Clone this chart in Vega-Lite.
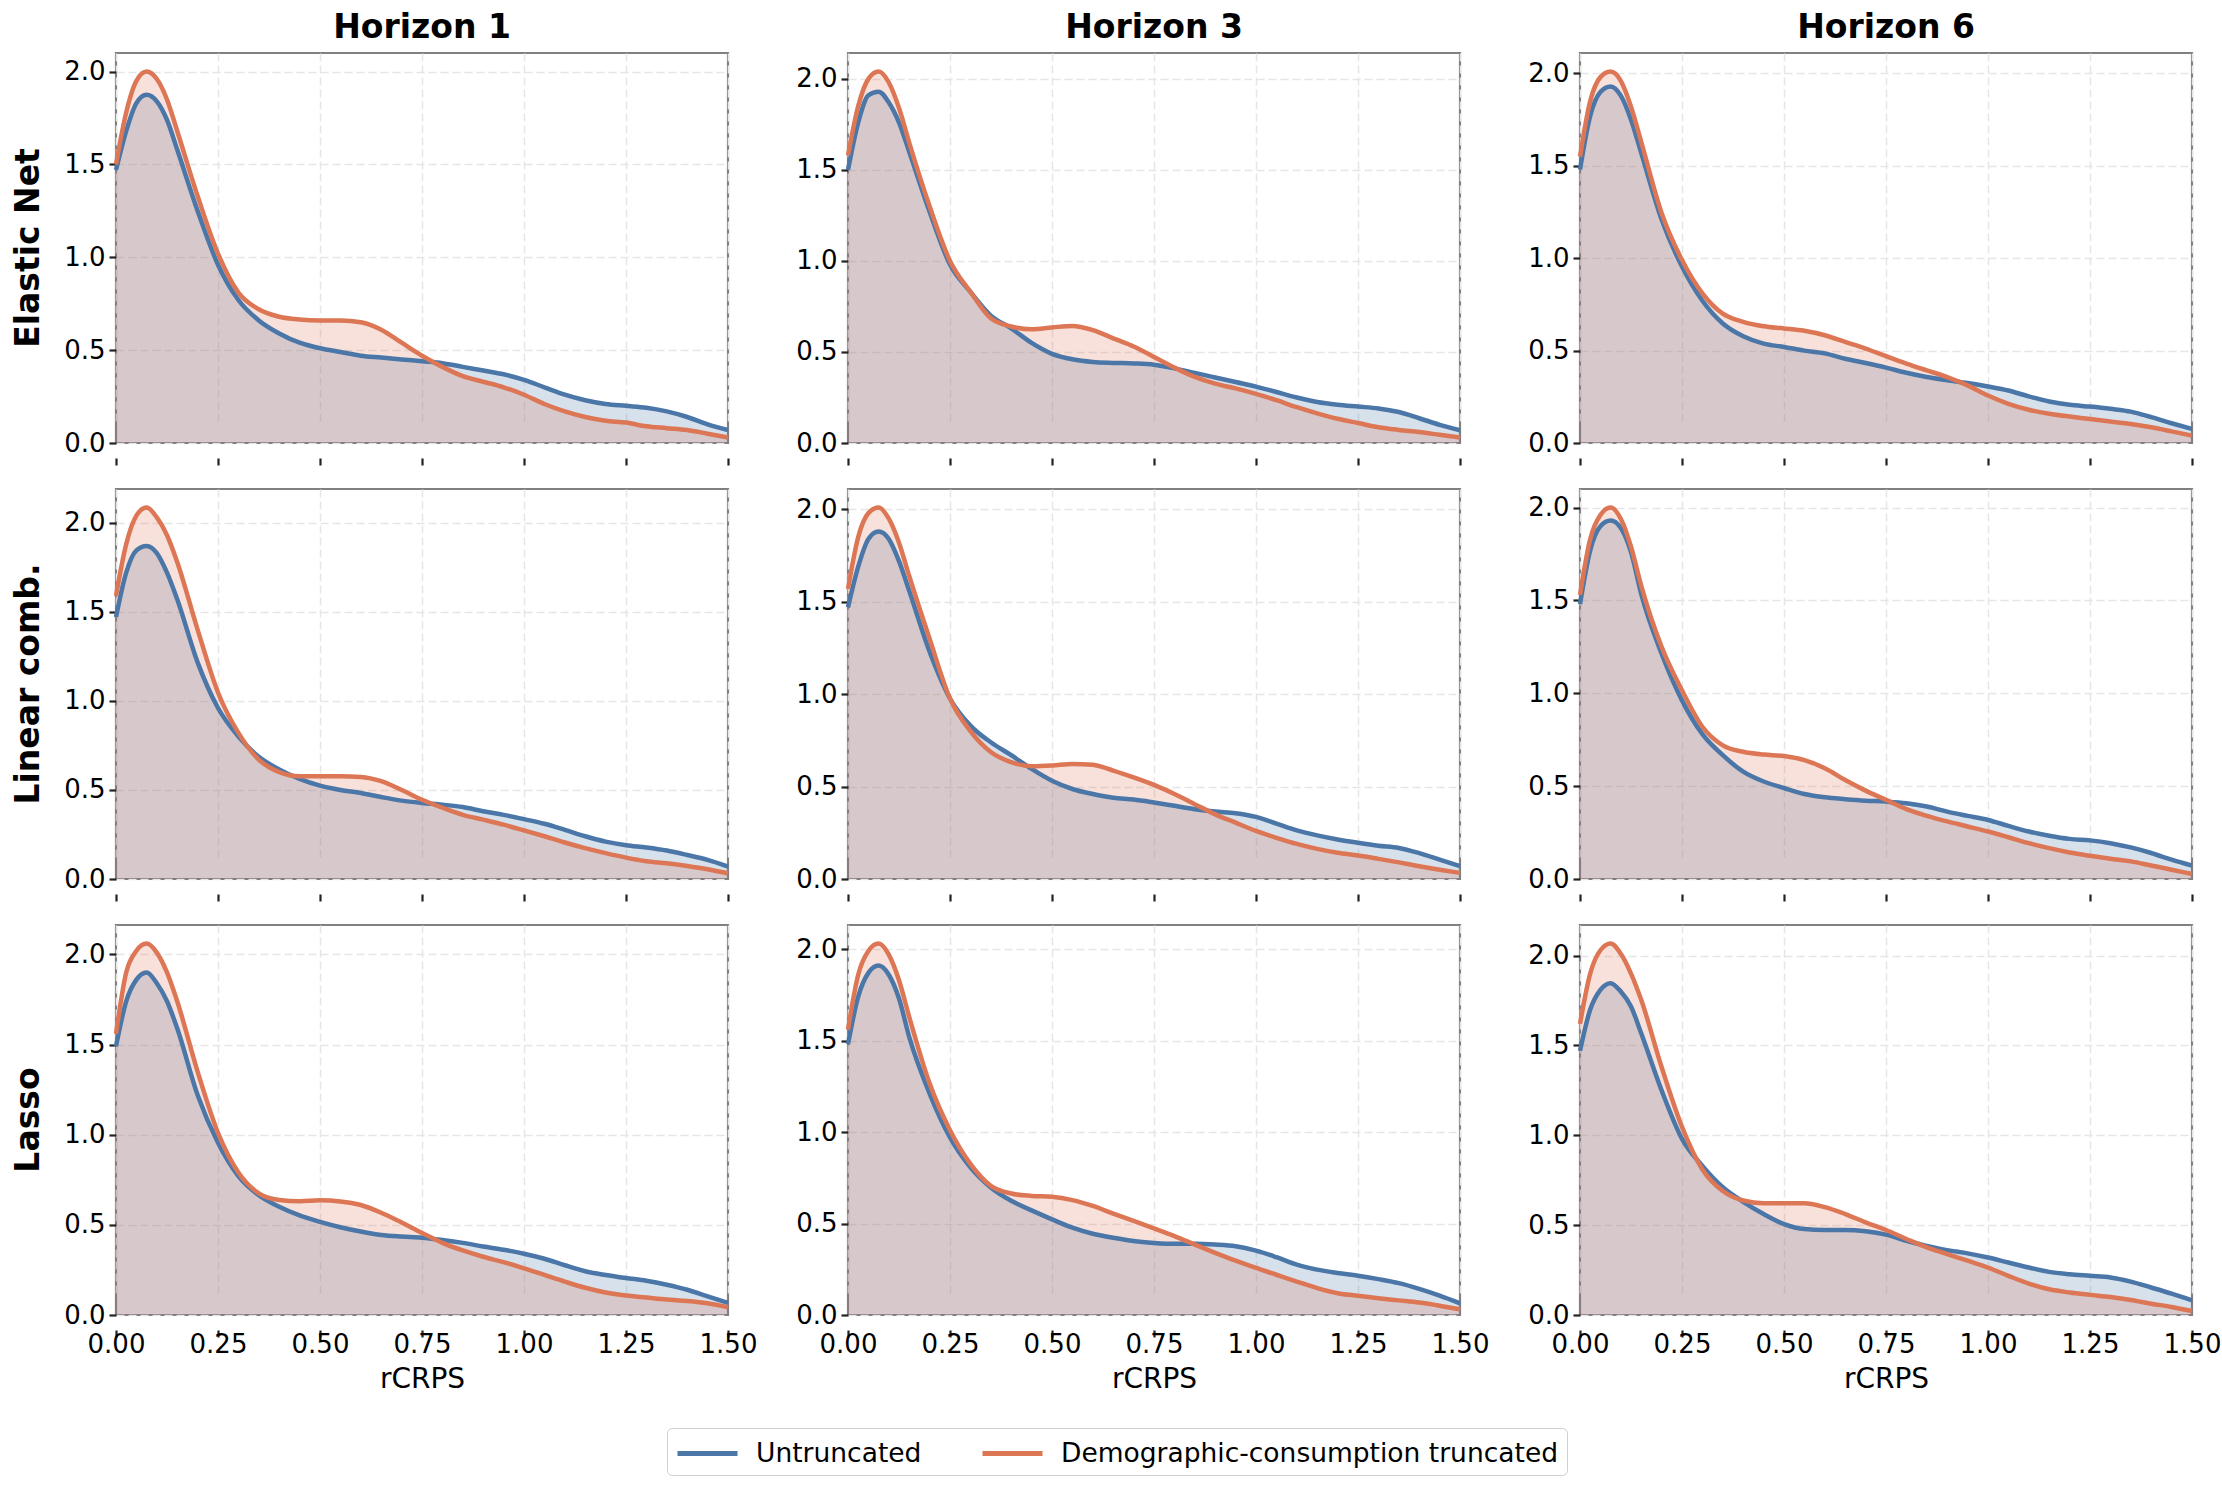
{
"$schema":"https://vega.github.io/schema/vega-lite/v6.json",
"background":"white",
"padding":{"left":12,"top":12,"right":10,"bottom":4},
"datasets":{"d":[
{"m":"Elastic Net","h":"Horizon 1","x":0,"Untruncated":1.47,"Truncated":1.5},
{"m":"Elastic Net","h":"Horizon 1","x":0.025,"Untruncated":1.68,"Truncated":1.78},
{"m":"Elastic Net","h":"Horizon 1","x":0.05,"Untruncated":1.83,"Truncated":1.95},
{"m":"Elastic Net","h":"Horizon 1","x":0.075,"Untruncated":1.875,"Truncated":2.0},
{"m":"Elastic Net","h":"Horizon 1","x":0.1,"Untruncated":1.84,"Truncated":1.96},
{"m":"Elastic Net","h":"Horizon 1","x":0.125,"Untruncated":1.74,"Truncated":1.85},
{"m":"Elastic Net","h":"Horizon 1","x":0.15,"Untruncated":1.58,"Truncated":1.68},
{"m":"Elastic Net","h":"Horizon 1","x":0.2,"Untruncated":1.25,"Truncated":1.33},
{"m":"Elastic Net","h":"Horizon 1","x":0.25,"Untruncated":0.96,"Truncated":1.02},
{"m":"Elastic Net","h":"Horizon 1","x":0.3,"Untruncated":0.77,"Truncated":0.81},
{"m":"Elastic Net","h":"Horizon 1","x":0.35,"Untruncated":0.66,"Truncated":0.72},
{"m":"Elastic Net","h":"Horizon 1","x":0.4,"Untruncated":0.59,"Truncated":0.68},
{"m":"Elastic Net","h":"Horizon 1","x":0.45,"Untruncated":0.54,"Truncated":0.665},
{"m":"Elastic Net","h":"Horizon 1","x":0.5,"Untruncated":0.51,"Truncated":0.66},
{"m":"Elastic Net","h":"Horizon 1","x":0.55,"Untruncated":0.49,"Truncated":0.66},
{"m":"Elastic Net","h":"Horizon 1","x":0.6,"Untruncated":0.47,"Truncated":0.65},
{"m":"Elastic Net","h":"Horizon 1","x":0.65,"Untruncated":0.46,"Truncated":0.61},
{"m":"Elastic Net","h":"Horizon 1","x":0.7,"Untruncated":0.45,"Truncated":0.54},
{"m":"Elastic Net","h":"Horizon 1","x":0.75,"Untruncated":0.44,"Truncated":0.47},
{"m":"Elastic Net","h":"Horizon 1","x":0.8,"Untruncated":0.43,"Truncated":0.41},
{"m":"Elastic Net","h":"Horizon 1","x":0.85,"Untruncated":0.41,"Truncated":0.36},
{"m":"Elastic Net","h":"Horizon 1","x":0.9,"Untruncated":0.39,"Truncated":0.33},
{"m":"Elastic Net","h":"Horizon 1","x":0.95,"Untruncated":0.37,"Truncated":0.30},
{"m":"Elastic Net","h":"Horizon 1","x":1.0,"Untruncated":0.34,"Truncated":0.26},
{"m":"Elastic Net","h":"Horizon 1","x":1.05,"Untruncated":0.30,"Truncated":0.21},
{"m":"Elastic Net","h":"Horizon 1","x":1.1,"Untruncated":0.26,"Truncated":0.17},
{"m":"Elastic Net","h":"Horizon 1","x":1.15,"Untruncated":0.23,"Truncated":0.14},
{"m":"Elastic Net","h":"Horizon 1","x":1.2,"Untruncated":0.21,"Truncated":0.12},
{"m":"Elastic Net","h":"Horizon 1","x":1.25,"Untruncated":0.20,"Truncated":0.11},
{"m":"Elastic Net","h":"Horizon 1","x":1.3,"Untruncated":0.19,"Truncated":0.09},
{"m":"Elastic Net","h":"Horizon 1","x":1.35,"Untruncated":0.17,"Truncated":0.08},
{"m":"Elastic Net","h":"Horizon 1","x":1.4,"Untruncated":0.14,"Truncated":0.07},
{"m":"Elastic Net","h":"Horizon 1","x":1.45,"Untruncated":0.10,"Truncated":0.05},
{"m":"Elastic Net","h":"Horizon 1","x":1.5,"Untruncated":0.07,"Truncated":0.03},
{"m":"Elastic Net","h":"Horizon 3","x":0,"Untruncated":1.50,"Truncated":1.58},
{"m":"Elastic Net","h":"Horizon 3","x":0.025,"Untruncated":1.76,"Truncated":1.85},
{"m":"Elastic Net","h":"Horizon 3","x":0.05,"Untruncated":1.91,"Truncated":2.00},
{"m":"Elastic Net","h":"Horizon 3","x":0.075,"Untruncated":1.93,"Truncated":2.04},
{"m":"Elastic Net","h":"Horizon 3","x":0.1,"Untruncated":1.87,"Truncated":1.98},
{"m":"Elastic Net","h":"Horizon 3","x":0.125,"Untruncated":1.76,"Truncated":1.84},
{"m":"Elastic Net","h":"Horizon 3","x":0.15,"Untruncated":1.60,"Truncated":1.65},
{"m":"Elastic Net","h":"Horizon 3","x":0.2,"Untruncated":1.27,"Truncated":1.30},
{"m":"Elastic Net","h":"Horizon 3","x":0.25,"Untruncated":0.98,"Truncated":1.00},
{"m":"Elastic Net","h":"Horizon 3","x":0.3,"Untruncated":0.83,"Truncated":0.83},
{"m":"Elastic Net","h":"Horizon 3","x":0.35,"Untruncated":0.70,"Truncated":0.685},
{"m":"Elastic Net","h":"Horizon 3","x":0.4,"Untruncated":0.63,"Truncated":0.64},
{"m":"Elastic Net","h":"Horizon 3","x":0.45,"Untruncated":0.55,"Truncated":0.625},
{"m":"Elastic Net","h":"Horizon 3","x":0.5,"Untruncated":0.49,"Truncated":0.635},
{"m":"Elastic Net","h":"Horizon 3","x":0.55,"Untruncated":0.46,"Truncated":0.643},
{"m":"Elastic Net","h":"Horizon 3","x":0.6,"Untruncated":0.445,"Truncated":0.62},
{"m":"Elastic Net","h":"Horizon 3","x":0.65,"Untruncated":0.44,"Truncated":0.575},
{"m":"Elastic Net","h":"Horizon 3","x":0.7,"Untruncated":0.437,"Truncated":0.53},
{"m":"Elastic Net","h":"Horizon 3","x":0.75,"Untruncated":0.43,"Truncated":0.473},
{"m":"Elastic Net","h":"Horizon 3","x":0.8,"Untruncated":0.41,"Truncated":0.414},
{"m":"Elastic Net","h":"Horizon 3","x":0.85,"Untruncated":0.385,"Truncated":0.363},
{"m":"Elastic Net","h":"Horizon 3","x":0.9,"Untruncated":0.36,"Truncated":0.326},
{"m":"Elastic Net","h":"Horizon 3","x":0.95,"Untruncated":0.335,"Truncated":0.30},
{"m":"Elastic Net","h":"Horizon 3","x":1.0,"Untruncated":0.31,"Truncated":0.27},
{"m":"Elastic Net","h":"Horizon 3","x":1.05,"Untruncated":0.28,"Truncated":0.235},
{"m":"Elastic Net","h":"Horizon 3","x":1.1,"Untruncated":0.25,"Truncated":0.197},
{"m":"Elastic Net","h":"Horizon 3","x":1.15,"Untruncated":0.225,"Truncated":0.163},
{"m":"Elastic Net","h":"Horizon 3","x":1.2,"Untruncated":0.21,"Truncated":0.133},
{"m":"Elastic Net","h":"Horizon 3","x":1.25,"Untruncated":0.20,"Truncated":0.11},
{"m":"Elastic Net","h":"Horizon 3","x":1.3,"Untruncated":0.19,"Truncated":0.087},
{"m":"Elastic Net","h":"Horizon 3","x":1.35,"Untruncated":0.17,"Truncated":0.072},
{"m":"Elastic Net","h":"Horizon 3","x":1.4,"Untruncated":0.136,"Truncated":0.06},
{"m":"Elastic Net","h":"Horizon 3","x":1.45,"Untruncated":0.10,"Truncated":0.045},
{"m":"Elastic Net","h":"Horizon 3","x":1.5,"Untruncated":0.07,"Truncated":0.03},
{"m":"Elastic Net","h":"Horizon 6","x":0,"Untruncated":1.48,"Truncated":1.55},
{"m":"Elastic Net","h":"Horizon 6","x":0.025,"Untruncated":1.77,"Truncated":1.85},
{"m":"Elastic Net","h":"Horizon 6","x":0.05,"Untruncated":1.90,"Truncated":1.98},
{"m":"Elastic Net","h":"Horizon 6","x":0.075,"Untruncated":1.93,"Truncated":2.01},
{"m":"Elastic Net","h":"Horizon 6","x":0.1,"Untruncated":1.88,"Truncated":1.96},
{"m":"Elastic Net","h":"Horizon 6","x":0.125,"Untruncated":1.75,"Truncated":1.82},
{"m":"Elastic Net","h":"Horizon 6","x":0.15,"Untruncated":1.57,"Truncated":1.63},
{"m":"Elastic Net","h":"Horizon 6","x":0.2,"Untruncated":1.21,"Truncated":1.245},
{"m":"Elastic Net","h":"Horizon 6","x":0.25,"Untruncated":0.955,"Truncated":0.99},
{"m":"Elastic Net","h":"Horizon 6","x":0.3,"Untruncated":0.77,"Truncated":0.81},
{"m":"Elastic Net","h":"Horizon 6","x":0.35,"Untruncated":0.647,"Truncated":0.70},
{"m":"Elastic Net","h":"Horizon 6","x":0.4,"Untruncated":0.578,"Truncated":0.656},
{"m":"Elastic Net","h":"Horizon 6","x":0.45,"Untruncated":0.538,"Truncated":0.632},
{"m":"Elastic Net","h":"Horizon 6","x":0.5,"Untruncated":0.52,"Truncated":0.62},
{"m":"Elastic Net","h":"Horizon 6","x":0.55,"Untruncated":0.50,"Truncated":0.607},
{"m":"Elastic Net","h":"Horizon 6","x":0.6,"Untruncated":0.485,"Truncated":0.583},
{"m":"Elastic Net","h":"Horizon 6","x":0.65,"Untruncated":0.456,"Truncated":0.547},
{"m":"Elastic Net","h":"Horizon 6","x":0.7,"Untruncated":0.433,"Truncated":0.511},
{"m":"Elastic Net","h":"Horizon 6","x":0.75,"Untruncated":0.408,"Truncated":0.47},
{"m":"Elastic Net","h":"Horizon 6","x":0.8,"Untruncated":0.38,"Truncated":0.43},
{"m":"Elastic Net","h":"Horizon 6","x":0.85,"Untruncated":0.357,"Truncated":0.393},
{"m":"Elastic Net","h":"Horizon 6","x":0.9,"Untruncated":0.34,"Truncated":0.357},
{"m":"Elastic Net","h":"Horizon 6","x":0.95,"Untruncated":0.325,"Truncated":0.312},
{"m":"Elastic Net","h":"Horizon 6","x":1.0,"Untruncated":0.306,"Truncated":0.257},
{"m":"Elastic Net","h":"Horizon 6","x":1.05,"Untruncated":0.284,"Truncated":0.212},
{"m":"Elastic Net","h":"Horizon 6","x":1.1,"Untruncated":0.252,"Truncated":0.18},
{"m":"Elastic Net","h":"Horizon 6","x":1.15,"Untruncated":0.225,"Truncated":0.158},
{"m":"Elastic Net","h":"Horizon 6","x":1.2,"Untruncated":0.207,"Truncated":0.143},
{"m":"Elastic Net","h":"Horizon 6","x":1.25,"Untruncated":0.197,"Truncated":0.13},
{"m":"Elastic Net","h":"Horizon 6","x":1.3,"Untruncated":0.185,"Truncated":0.116},
{"m":"Elastic Net","h":"Horizon 6","x":1.35,"Untruncated":0.17,"Truncated":0.103},
{"m":"Elastic Net","h":"Horizon 6","x":1.4,"Untruncated":0.14,"Truncated":0.085},
{"m":"Elastic Net","h":"Horizon 6","x":1.45,"Untruncated":0.107,"Truncated":0.063},
{"m":"Elastic Net","h":"Horizon 6","x":1.5,"Untruncated":0.076,"Truncated":0.04},
{"m":"Linear comb.","h":"Horizon 1","x":0,"Untruncated":1.47,"Truncated":1.59},
{"m":"Linear comb.","h":"Horizon 1","x":0.025,"Untruncated":1.72,"Truncated":1.88},
{"m":"Linear comb.","h":"Horizon 1","x":0.05,"Untruncated":1.845,"Truncated":2.04},
{"m":"Linear comb.","h":"Horizon 1","x":0.075,"Untruncated":1.87,"Truncated":2.085},
{"m":"Linear comb.","h":"Horizon 1","x":0.1,"Untruncated":1.83,"Truncated":2.03},
{"m":"Linear comb.","h":"Horizon 1","x":0.125,"Untruncated":1.72,"Truncated":1.93},
{"m":"Linear comb.","h":"Horizon 1","x":0.15,"Untruncated":1.57,"Truncated":1.78},
{"m":"Linear comb.","h":"Horizon 1","x":0.2,"Untruncated":1.216,"Truncated":1.40},
{"m":"Linear comb.","h":"Horizon 1","x":0.25,"Untruncated":0.96,"Truncated":1.047},
{"m":"Linear comb.","h":"Horizon 1","x":0.3,"Untruncated":0.80,"Truncated":0.82},
{"m":"Linear comb.","h":"Horizon 1","x":0.35,"Untruncated":0.686,"Truncated":0.67},
{"m":"Linear comb.","h":"Horizon 1","x":0.4,"Untruncated":0.615,"Truncated":0.60},
{"m":"Linear comb.","h":"Horizon 1","x":0.45,"Untruncated":0.562,"Truncated":0.577},
{"m":"Linear comb.","h":"Horizon 1","x":0.5,"Untruncated":0.524,"Truncated":0.577},
{"m":"Linear comb.","h":"Horizon 1","x":0.55,"Untruncated":0.50,"Truncated":0.577},
{"m":"Linear comb.","h":"Horizon 1","x":0.6,"Untruncated":0.483,"Truncated":0.573},
{"m":"Linear comb.","h":"Horizon 1","x":0.65,"Untruncated":0.46,"Truncated":0.549},
{"m":"Linear comb.","h":"Horizon 1","x":0.7,"Untruncated":0.44,"Truncated":0.50},
{"m":"Linear comb.","h":"Horizon 1","x":0.75,"Untruncated":0.427,"Truncated":0.445},
{"m":"Linear comb.","h":"Horizon 1","x":0.8,"Untruncated":0.417,"Truncated":0.40},
{"m":"Linear comb.","h":"Horizon 1","x":0.85,"Untruncated":0.404,"Truncated":0.36},
{"m":"Linear comb.","h":"Horizon 1","x":0.9,"Untruncated":0.38,"Truncated":0.333},
{"m":"Linear comb.","h":"Horizon 1","x":0.95,"Untruncated":0.36,"Truncated":0.305},
{"m":"Linear comb.","h":"Horizon 1","x":1.0,"Untruncated":0.336,"Truncated":0.273},
{"m":"Linear comb.","h":"Horizon 1","x":1.05,"Untruncated":0.31,"Truncated":0.24},
{"m":"Linear comb.","h":"Horizon 1","x":1.1,"Untruncated":0.276,"Truncated":0.205},
{"m":"Linear comb.","h":"Horizon 1","x":1.15,"Untruncated":0.24,"Truncated":0.173},
{"m":"Linear comb.","h":"Horizon 1","x":1.2,"Untruncated":0.21,"Truncated":0.145},
{"m":"Linear comb.","h":"Horizon 1","x":1.25,"Untruncated":0.19,"Truncated":0.12},
{"m":"Linear comb.","h":"Horizon 1","x":1.3,"Untruncated":0.177,"Truncated":0.10},
{"m":"Linear comb.","h":"Horizon 1","x":1.35,"Untruncated":0.16,"Truncated":0.088},
{"m":"Linear comb.","h":"Horizon 1","x":1.4,"Untruncated":0.135,"Truncated":0.073},
{"m":"Linear comb.","h":"Horizon 1","x":1.45,"Untruncated":0.107,"Truncated":0.055},
{"m":"Linear comb.","h":"Horizon 1","x":1.5,"Untruncated":0.07,"Truncated":0.032},
{"m":"Linear comb.","h":"Horizon 3","x":0,"Untruncated":1.47,"Truncated":1.57},
{"m":"Linear comb.","h":"Horizon 3","x":0.025,"Untruncated":1.69,"Truncated":1.85},
{"m":"Linear comb.","h":"Horizon 3","x":0.05,"Untruncated":1.84,"Truncated":1.98},
{"m":"Linear comb.","h":"Horizon 3","x":0.075,"Untruncated":1.88,"Truncated":2.01},
{"m":"Linear comb.","h":"Horizon 3","x":0.1,"Untruncated":1.84,"Truncated":1.95},
{"m":"Linear comb.","h":"Horizon 3","x":0.125,"Untruncated":1.72,"Truncated":1.82},
{"m":"Linear comb.","h":"Horizon 3","x":0.15,"Untruncated":1.56,"Truncated":1.64},
{"m":"Linear comb.","h":"Horizon 3","x":0.2,"Untruncated":1.23,"Truncated":1.30},
{"m":"Linear comb.","h":"Horizon 3","x":0.25,"Untruncated":0.977,"Truncated":0.977},
{"m":"Linear comb.","h":"Horizon 3","x":0.3,"Untruncated":0.83,"Truncated":0.80},
{"m":"Linear comb.","h":"Horizon 3","x":0.35,"Untruncated":0.74,"Truncated":0.687},
{"m":"Linear comb.","h":"Horizon 3","x":0.4,"Untruncated":0.67,"Truncated":0.632},
{"m":"Linear comb.","h":"Horizon 3","x":0.45,"Untruncated":0.596,"Truncated":0.61},
{"m":"Linear comb.","h":"Horizon 3","x":0.5,"Untruncated":0.532,"Truncated":0.614},
{"m":"Linear comb.","h":"Horizon 3","x":0.55,"Untruncated":0.487,"Truncated":0.623},
{"m":"Linear comb.","h":"Horizon 3","x":0.6,"Untruncated":0.46,"Truncated":0.618},
{"m":"Linear comb.","h":"Horizon 3","x":0.65,"Untruncated":0.44,"Truncated":0.587},
{"m":"Linear comb.","h":"Horizon 3","x":0.7,"Untruncated":0.43,"Truncated":0.55},
{"m":"Linear comb.","h":"Horizon 3","x":0.75,"Untruncated":0.414,"Truncated":0.509},
{"m":"Linear comb.","h":"Horizon 3","x":0.8,"Untruncated":0.396,"Truncated":0.46},
{"m":"Linear comb.","h":"Horizon 3","x":0.85,"Untruncated":0.378,"Truncated":0.405},
{"m":"Linear comb.","h":"Horizon 3","x":0.9,"Untruncated":0.365,"Truncated":0.35},
{"m":"Linear comb.","h":"Horizon 3","x":0.95,"Untruncated":0.356,"Truncated":0.305},
{"m":"Linear comb.","h":"Horizon 3","x":1.0,"Untruncated":0.336,"Truncated":0.26},
{"m":"Linear comb.","h":"Horizon 3","x":1.05,"Untruncated":0.30,"Truncated":0.223},
{"m":"Linear comb.","h":"Horizon 3","x":1.1,"Untruncated":0.263,"Truncated":0.19},
{"m":"Linear comb.","h":"Horizon 3","x":1.15,"Untruncated":0.236,"Truncated":0.163},
{"m":"Linear comb.","h":"Horizon 3","x":1.2,"Untruncated":0.214,"Truncated":0.142},
{"m":"Linear comb.","h":"Horizon 3","x":1.25,"Untruncated":0.196,"Truncated":0.127},
{"m":"Linear comb.","h":"Horizon 3","x":1.3,"Untruncated":0.18,"Truncated":0.109},
{"m":"Linear comb.","h":"Horizon 3","x":1.35,"Untruncated":0.168,"Truncated":0.09},
{"m":"Linear comb.","h":"Horizon 3","x":1.4,"Untruncated":0.14,"Truncated":0.069},
{"m":"Linear comb.","h":"Horizon 3","x":1.45,"Untruncated":0.105,"Truncated":0.05},
{"m":"Linear comb.","h":"Horizon 3","x":1.5,"Untruncated":0.07,"Truncated":0.033},
{"m":"Linear comb.","h":"Horizon 6","x":0,"Untruncated":1.48,"Truncated":1.53},
{"m":"Linear comb.","h":"Horizon 6","x":0.025,"Untruncated":1.77,"Truncated":1.83},
{"m":"Linear comb.","h":"Horizon 6","x":0.05,"Untruncated":1.90,"Truncated":1.96},
{"m":"Linear comb.","h":"Horizon 6","x":0.075,"Untruncated":1.93,"Truncated":2.0},
{"m":"Linear comb.","h":"Horizon 6","x":0.1,"Untruncated":1.89,"Truncated":1.94},
{"m":"Linear comb.","h":"Horizon 6","x":0.125,"Untruncated":1.76,"Truncated":1.79},
{"m":"Linear comb.","h":"Horizon 6","x":0.15,"Untruncated":1.535,"Truncated":1.58},
{"m":"Linear comb.","h":"Horizon 6","x":0.2,"Untruncated":1.213,"Truncated":1.25},
{"m":"Linear comb.","h":"Horizon 6","x":0.25,"Untruncated":0.962,"Truncated":1.016},
{"m":"Linear comb.","h":"Horizon 6","x":0.3,"Untruncated":0.78,"Truncated":0.82},
{"m":"Linear comb.","h":"Horizon 6","x":0.35,"Untruncated":0.667,"Truncated":0.72},
{"m":"Linear comb.","h":"Horizon 6","x":0.4,"Untruncated":0.578,"Truncated":0.685},
{"m":"Linear comb.","h":"Horizon 6","x":0.45,"Untruncated":0.525,"Truncated":0.67},
{"m":"Linear comb.","h":"Horizon 6","x":0.5,"Untruncated":0.49,"Truncated":0.662},
{"m":"Linear comb.","h":"Horizon 6","x":0.55,"Untruncated":0.458,"Truncated":0.64},
{"m":"Linear comb.","h":"Horizon 6","x":0.6,"Untruncated":0.44,"Truncated":0.596},
{"m":"Linear comb.","h":"Horizon 6","x":0.65,"Untruncated":0.43,"Truncated":0.533},
{"m":"Linear comb.","h":"Horizon 6","x":0.7,"Untruncated":0.422,"Truncated":0.476},
{"m":"Linear comb.","h":"Horizon 6","x":0.75,"Untruncated":0.417,"Truncated":0.426},
{"m":"Linear comb.","h":"Horizon 6","x":0.8,"Untruncated":0.408,"Truncated":0.376},
{"m":"Linear comb.","h":"Horizon 6","x":0.85,"Untruncated":0.39,"Truncated":0.34},
{"m":"Linear comb.","h":"Horizon 6","x":0.9,"Untruncated":0.363,"Truncated":0.31},
{"m":"Linear comb.","h":"Horizon 6","x":0.95,"Untruncated":0.34,"Truncated":0.283},
{"m":"Linear comb.","h":"Horizon 6","x":1.0,"Untruncated":0.318,"Truncated":0.256},
{"m":"Linear comb.","h":"Horizon 6","x":1.05,"Untruncated":0.286,"Truncated":0.225},
{"m":"Linear comb.","h":"Horizon 6","x":1.1,"Untruncated":0.256,"Truncated":0.193},
{"m":"Linear comb.","h":"Horizon 6","x":1.15,"Untruncated":0.233,"Truncated":0.166},
{"m":"Linear comb.","h":"Horizon 6","x":1.2,"Untruncated":0.216,"Truncated":0.143},
{"m":"Linear comb.","h":"Horizon 6","x":1.25,"Untruncated":0.208,"Truncated":0.125},
{"m":"Linear comb.","h":"Horizon 6","x":1.3,"Untruncated":0.193,"Truncated":0.109},
{"m":"Linear comb.","h":"Horizon 6","x":1.35,"Untruncated":0.17,"Truncated":0.095},
{"m":"Linear comb.","h":"Horizon 6","x":1.4,"Untruncated":0.14,"Truncated":0.073},
{"m":"Linear comb.","h":"Horizon 6","x":1.45,"Untruncated":0.104,"Truncated":0.05},
{"m":"Linear comb.","h":"Horizon 6","x":1.5,"Untruncated":0.072,"Truncated":0.027},
{"m":"Lasso","h":"Horizon 1","x":0,"Untruncated":1.49,"Truncated":1.56},
{"m":"Lasso","h":"Horizon 1","x":0.025,"Untruncated":1.74,"Truncated":1.90},
{"m":"Lasso","h":"Horizon 1","x":0.05,"Untruncated":1.86,"Truncated":2.02},
{"m":"Lasso","h":"Horizon 1","x":0.075,"Untruncated":1.90,"Truncated":2.06},
{"m":"Lasso","h":"Horizon 1","x":0.1,"Untruncated":1.84,"Truncated":2.01},
{"m":"Lasso","h":"Horizon 1","x":0.125,"Untruncated":1.74,"Truncated":1.90},
{"m":"Lasso","h":"Horizon 1","x":0.15,"Untruncated":1.59,"Truncated":1.74},
{"m":"Lasso","h":"Horizon 1","x":0.2,"Untruncated":1.22,"Truncated":1.35},
{"m":"Lasso","h":"Horizon 1","x":0.25,"Untruncated":0.955,"Truncated":1.01},
{"m":"Lasso","h":"Horizon 1","x":0.3,"Untruncated":0.77,"Truncated":0.79},
{"m":"Lasso","h":"Horizon 1","x":0.35,"Untruncated":0.664,"Truncated":0.675},
{"m":"Lasso","h":"Horizon 1","x":0.4,"Untruncated":0.60,"Truncated":0.638},
{"m":"Lasso","h":"Horizon 1","x":0.45,"Untruncated":0.552,"Truncated":0.631},
{"m":"Lasso","h":"Horizon 1","x":0.5,"Untruncated":0.517,"Truncated":0.636},
{"m":"Lasso","h":"Horizon 1","x":0.55,"Untruncated":0.487,"Truncated":0.63},
{"m":"Lasso","h":"Horizon 1","x":0.6,"Untruncated":0.463,"Truncated":0.61},
{"m":"Lasso","h":"Horizon 1","x":0.65,"Untruncated":0.444,"Truncated":0.567},
{"m":"Lasso","h":"Horizon 1","x":0.7,"Untruncated":0.435,"Truncated":0.513},
{"m":"Lasso","h":"Horizon 1","x":0.75,"Untruncated":0.429,"Truncated":0.455},
{"m":"Lasso","h":"Horizon 1","x":0.8,"Untruncated":0.416,"Truncated":0.40},
{"m":"Lasso","h":"Horizon 1","x":0.85,"Untruncated":0.40,"Truncated":0.358},
{"m":"Lasso","h":"Horizon 1","x":0.9,"Untruncated":0.38,"Truncated":0.323},
{"m":"Lasso","h":"Horizon 1","x":0.95,"Untruncated":0.362,"Truncated":0.293},
{"m":"Lasso","h":"Horizon 1","x":1.0,"Untruncated":0.34,"Truncated":0.259},
{"m":"Lasso","h":"Horizon 1","x":1.05,"Untruncated":0.312,"Truncated":0.222},
{"m":"Lasso","h":"Horizon 1","x":1.1,"Untruncated":0.276,"Truncated":0.185},
{"m":"Lasso","h":"Horizon 1","x":1.15,"Untruncated":0.243,"Truncated":0.151},
{"m":"Lasso","h":"Horizon 1","x":1.2,"Untruncated":0.222,"Truncated":0.125},
{"m":"Lasso","h":"Horizon 1","x":1.25,"Untruncated":0.205,"Truncated":0.108},
{"m":"Lasso","h":"Horizon 1","x":1.3,"Untruncated":0.19,"Truncated":0.097},
{"m":"Lasso","h":"Horizon 1","x":1.35,"Untruncated":0.168,"Truncated":0.086},
{"m":"Lasso","h":"Horizon 1","x":1.4,"Untruncated":0.14,"Truncated":0.078},
{"m":"Lasso","h":"Horizon 1","x":1.45,"Untruncated":0.103,"Truncated":0.065},
{"m":"Lasso","h":"Horizon 1","x":1.5,"Untruncated":0.067,"Truncated":0.043},
{"m":"Lasso","h":"Horizon 3","x":0,"Untruncated":1.48,"Truncated":1.56},
{"m":"Lasso","h":"Horizon 3","x":0.025,"Untruncated":1.74,"Truncated":1.86},
{"m":"Lasso","h":"Horizon 3","x":0.05,"Untruncated":1.87,"Truncated":1.99},
{"m":"Lasso","h":"Horizon 3","x":0.075,"Untruncated":1.91,"Truncated":2.03},
{"m":"Lasso","h":"Horizon 3","x":0.1,"Untruncated":1.86,"Truncated":1.97},
{"m":"Lasso","h":"Horizon 3","x":0.125,"Untruncated":1.73,"Truncated":1.83},
{"m":"Lasso","h":"Horizon 3","x":0.15,"Untruncated":1.52,"Truncated":1.63},
{"m":"Lasso","h":"Horizon 3","x":0.2,"Untruncated":1.21,"Truncated":1.266},
{"m":"Lasso","h":"Horizon 3","x":0.25,"Untruncated":0.97,"Truncated":1.01},
{"m":"Lasso","h":"Horizon 3","x":0.3,"Untruncated":0.807,"Truncated":0.826},
{"m":"Lasso","h":"Horizon 3","x":0.35,"Untruncated":0.697,"Truncated":0.706},
{"m":"Lasso","h":"Horizon 3","x":0.4,"Untruncated":0.624,"Truncated":0.664},
{"m":"Lasso","h":"Horizon 3","x":0.45,"Untruncated":0.572,"Truncated":0.651},
{"m":"Lasso","h":"Horizon 3","x":0.5,"Untruncated":0.523,"Truncated":0.646},
{"m":"Lasso","h":"Horizon 3","x":0.55,"Untruncated":0.477,"Truncated":0.628},
{"m":"Lasso","h":"Horizon 3","x":0.6,"Untruncated":0.444,"Truncated":0.596},
{"m":"Lasso","h":"Horizon 3","x":0.65,"Untruncated":0.422,"Truncated":0.554},
{"m":"Lasso","h":"Horizon 3","x":0.7,"Untruncated":0.404,"Truncated":0.514},
{"m":"Lasso","h":"Horizon 3","x":0.75,"Untruncated":0.394,"Truncated":0.473},
{"m":"Lasso","h":"Horizon 3","x":0.8,"Untruncated":0.389,"Truncated":0.431},
{"m":"Lasso","h":"Horizon 3","x":0.85,"Untruncated":0.389,"Truncated":0.385},
{"m":"Lasso","h":"Horizon 3","x":0.9,"Untruncated":0.385,"Truncated":0.34},
{"m":"Lasso","h":"Horizon 3","x":0.95,"Untruncated":0.376,"Truncated":0.297},
{"m":"Lasso","h":"Horizon 3","x":1.0,"Untruncated":0.352,"Truncated":0.257},
{"m":"Lasso","h":"Horizon 3","x":1.05,"Untruncated":0.316,"Truncated":0.22},
{"m":"Lasso","h":"Horizon 3","x":1.1,"Untruncated":0.275,"Truncated":0.183},
{"m":"Lasso","h":"Horizon 3","x":1.15,"Untruncated":0.248,"Truncated":0.147},
{"m":"Lasso","h":"Horizon 3","x":1.2,"Untruncated":0.23,"Truncated":0.119},
{"m":"Lasso","h":"Horizon 3","x":1.25,"Untruncated":0.215,"Truncated":0.105},
{"m":"Lasso","h":"Horizon 3","x":1.3,"Untruncated":0.196,"Truncated":0.092},
{"m":"Lasso","h":"Horizon 3","x":1.35,"Untruncated":0.174,"Truncated":0.08},
{"m":"Lasso","h":"Horizon 3","x":1.4,"Untruncated":0.143,"Truncated":0.068},
{"m":"Lasso","h":"Horizon 3","x":1.45,"Untruncated":0.106,"Truncated":0.051},
{"m":"Lasso","h":"Horizon 3","x":1.5,"Untruncated":0.064,"Truncated":0.031},
{"m":"Lasso","h":"Horizon 6","x":0,"Untruncated":1.47,"Truncated":1.62},
{"m":"Lasso","h":"Horizon 6","x":0.025,"Untruncated":1.70,"Truncated":1.90},
{"m":"Lasso","h":"Horizon 6","x":0.05,"Untruncated":1.81,"Truncated":2.03},
{"m":"Lasso","h":"Horizon 6","x":0.075,"Untruncated":1.847,"Truncated":2.067},
{"m":"Lasso","h":"Horizon 6","x":0.1,"Untruncated":1.80,"Truncated":2.01},
{"m":"Lasso","h":"Horizon 6","x":0.125,"Untruncated":1.717,"Truncated":1.90},
{"m":"Lasso","h":"Horizon 6","x":0.15,"Untruncated":1.568,"Truncated":1.754},
{"m":"Lasso","h":"Horizon 6","x":0.2,"Untruncated":1.25,"Truncated":1.38},
{"m":"Lasso","h":"Horizon 6","x":0.25,"Untruncated":0.98,"Truncated":1.047},
{"m":"Lasso","h":"Horizon 6","x":0.3,"Untruncated":0.83,"Truncated":0.81},
{"m":"Lasso","h":"Horizon 6","x":0.35,"Untruncated":0.711,"Truncated":0.69},
{"m":"Lasso","h":"Horizon 6","x":0.4,"Untruncated":0.63,"Truncated":0.637},
{"m":"Lasso","h":"Horizon 6","x":0.45,"Untruncated":0.562,"Truncated":0.622},
{"m":"Lasso","h":"Horizon 6","x":0.5,"Untruncated":0.506,"Truncated":0.622},
{"m":"Lasso","h":"Horizon 6","x":0.55,"Untruncated":0.478,"Truncated":0.622},
{"m":"Lasso","h":"Horizon 6","x":0.6,"Untruncated":0.473,"Truncated":0.60},
{"m":"Lasso","h":"Horizon 6","x":0.65,"Untruncated":0.473,"Truncated":0.562},
{"m":"Lasso","h":"Horizon 6","x":0.7,"Untruncated":0.466,"Truncated":0.516},
{"m":"Lasso","h":"Horizon 6","x":0.75,"Untruncated":0.447,"Truncated":0.473},
{"m":"Lasso","h":"Horizon 6","x":0.8,"Untruncated":0.413,"Truncated":0.423},
{"m":"Lasso","h":"Horizon 6","x":0.85,"Untruncated":0.385,"Truncated":0.376},
{"m":"Lasso","h":"Horizon 6","x":0.9,"Untruncated":0.361,"Truncated":0.339},
{"m":"Lasso","h":"Horizon 6","x":0.95,"Untruncated":0.343,"Truncated":0.302},
{"m":"Lasso","h":"Horizon 6","x":1.0,"Untruncated":0.32,"Truncated":0.264},
{"m":"Lasso","h":"Horizon 6","x":1.05,"Untruncated":0.292,"Truncated":0.218},
{"m":"Lasso","h":"Horizon 6","x":1.1,"Untruncated":0.264,"Truncated":0.175},
{"m":"Lasso","h":"Horizon 6","x":1.15,"Untruncated":0.24,"Truncated":0.143},
{"m":"Lasso","h":"Horizon 6","x":1.2,"Untruncated":0.227,"Truncated":0.125},
{"m":"Lasso","h":"Horizon 6","x":1.25,"Untruncated":0.218,"Truncated":0.112},
{"m":"Lasso","h":"Horizon 6","x":1.3,"Untruncated":0.209,"Truncated":0.10},
{"m":"Lasso","h":"Horizon 6","x":1.35,"Untruncated":0.186,"Truncated":0.084},
{"m":"Lasso","h":"Horizon 6","x":1.4,"Untruncated":0.153,"Truncated":0.063},
{"m":"Lasso","h":"Horizon 6","x":1.45,"Untruncated":0.119,"Truncated":0.045},
{"m":"Lasso","h":"Horizon 6","x":1.5,"Untruncated":0.082,"Truncated":0.022}
]},
"data":{"name":"d"},
"transform":[{"fold":["Untruncated","Truncated"],"as":["series","y"]}],
"spacing":20,
"vconcat":[
{
"transform":[{"filter":"datum.m === 'Elastic Net'"}],
"facet":{
"row":{"field":"m","type":"nominal","header":{"title":null,"labelFontSize":33,"labelFontWeight":"bold","labelColor":"#000000","labelOrient":"left","labelAngle":-90,"labelPadding":0}},
"column":{"field":"h","type":"nominal","sort":["Horizon 1","Horizon 3","Horizon 6"],"header":{"title":null,"labelFontSize":33,"labelFontWeight":"bold","labelColor":"#000000","labelPadding":6}}
},
"spacing":{"column":55},
"resolve":{"scale":{"y":"independent"}},
"spec":{
"width":612,"height":390,
"encoding":{
"x":{"field":"x","type":"quantitative","scale":{"domain":[0,1.5],"nice":false,"zero":false},"axis":{"values":[0,0.25,0.5,0.75,1,1.25,1.5],"labels":false,"title":null}},
"y":{"field":"y","type":"quantitative","stack":null,"scale":{"nice":false,"zero":true,"range":[390,18.6]},"axis":{"values":[0,0.5,1,1.5,2],"format":".1f","title":null}}
},
"layer":[
{"mark":{"type":"area","interpolate":"monotone","fillOpacity":0.22},"encoding":{"fill":{"field":"series","type":"nominal","scale":{"domain":["Untruncated","Truncated"],"range":["#4a76a8","#dc7655"]},"legend":{"orient":"bottom","offset":35,"direction":"horizontal","title":null,"labelExpr":"datum.label == 'Truncated' ? 'Demographic-consumption truncated' : datum.label","symbolType":"M-1,0H3","symbolSize":900,"symbolStrokeWidth":5,"labelFontSize":26.5,"labelLimit":1000,"labelColor":"#000000","labelOffset":46,"columnPadding":50,"padding":8,"strokeColor":"#d0d0d0","cornerRadius":5,"fillColor":"#ffffff"}}}},
{"mark":{"type":"line","interpolate":"monotone","strokeWidth":4.5},"encoding":{"stroke":{"field":"series","type":"nominal","scale":{"domain":["Untruncated","Truncated"],"range":["#4a76a8","#dc7655"]},"legend":{"orient":"bottom","offset":35,"direction":"horizontal","title":null,"labelExpr":"datum.label == 'Truncated' ? 'Demographic-consumption truncated' : datum.label","symbolType":"M-1,0H3","symbolSize":900,"symbolStrokeWidth":5,"labelFontSize":26.5,"labelLimit":1000,"labelColor":"#000000","labelOffset":46,"columnPadding":50,"padding":8,"strokeColor":"#d0d0d0","cornerRadius":5,"fillColor":"#ffffff"}}}}
]
}
},
{
"transform":[{"filter":"datum.m === 'Linear comb.'"}],
"facet":{
"row":{"field":"m","type":"nominal","header":{"title":null,"labelFontSize":33,"labelFontWeight":"bold","labelColor":"#000000","labelOrient":"left","labelAngle":-90,"labelPadding":0}},
"column":{"field":"h","type":"nominal","sort":["Horizon 1","Horizon 3","Horizon 6"],"header":{"title":null,"labels":false}}
},
"spacing":{"column":55},
"resolve":{"scale":{"y":"independent"}},
"spec":{
"width":612,"height":390,
"encoding":{
"x":{"field":"x","type":"quantitative","scale":{"domain":[0,1.5],"nice":false,"zero":false},"axis":{"values":[0,0.25,0.5,0.75,1,1.25,1.5],"labels":false,"title":null}},
"y":{"field":"y","type":"quantitative","stack":null,"scale":{"nice":false,"zero":true,"range":[390,18.6]},"axis":{"values":[0,0.5,1,1.5,2],"format":".1f","title":null}}
},
"layer":[
{"mark":{"type":"area","interpolate":"monotone","fillOpacity":0.22},"encoding":{"fill":{"field":"series","type":"nominal","scale":{"domain":["Untruncated","Truncated"],"range":["#4a76a8","#dc7655"]},"legend":{"orient":"bottom","offset":35,"direction":"horizontal","title":null,"labelExpr":"datum.label == 'Truncated' ? 'Demographic-consumption truncated' : datum.label","symbolType":"M-1,0H3","symbolSize":900,"symbolStrokeWidth":5,"labelFontSize":26.5,"labelLimit":1000,"labelColor":"#000000","labelOffset":46,"columnPadding":50,"padding":8,"strokeColor":"#d0d0d0","cornerRadius":5,"fillColor":"#ffffff"}}}},
{"mark":{"type":"line","interpolate":"monotone","strokeWidth":4.5},"encoding":{"stroke":{"field":"series","type":"nominal","scale":{"domain":["Untruncated","Truncated"],"range":["#4a76a8","#dc7655"]},"legend":{"orient":"bottom","offset":35,"direction":"horizontal","title":null,"labelExpr":"datum.label == 'Truncated' ? 'Demographic-consumption truncated' : datum.label","symbolType":"M-1,0H3","symbolSize":900,"symbolStrokeWidth":5,"labelFontSize":26.5,"labelLimit":1000,"labelColor":"#000000","labelOffset":46,"columnPadding":50,"padding":8,"strokeColor":"#d0d0d0","cornerRadius":5,"fillColor":"#ffffff"}}}}
]
}
},
{
"transform":[{"filter":"datum.m === 'Lasso'"}],
"facet":{
"row":{"field":"m","type":"nominal","header":{"title":null,"labelFontSize":33,"labelFontWeight":"bold","labelColor":"#000000","labelOrient":"left","labelAngle":-90,"labelPadding":0}},
"column":{"field":"h","type":"nominal","sort":["Horizon 1","Horizon 3","Horizon 6"],"header":{"title":null,"labels":false}}
},
"spacing":{"column":55},
"resolve":{"scale":{"y":"independent"}},
"spec":{
"width":612,"height":390,
"encoding":{
"x":{"field":"x","type":"quantitative","scale":{"domain":[0,1.5],"nice":false,"zero":false},"axis":{"values":[0,0.25,0.5,0.75,1,1.25,1.5],"format":".2f","title":"rCRPS","titlePadding":8,"labelPadding":-6}},
"y":{"field":"y","type":"quantitative","stack":null,"scale":{"nice":false,"zero":true,"range":[390,18.6]},"axis":{"values":[0,0.5,1,1.5,2],"format":".1f","title":null}}
},
"layer":[
{"mark":{"type":"area","interpolate":"monotone","fillOpacity":0.22},"encoding":{"fill":{"field":"series","type":"nominal","scale":{"domain":["Untruncated","Truncated"],"range":["#4a76a8","#dc7655"]},"legend":{"orient":"bottom","offset":35,"direction":"horizontal","title":null,"labelExpr":"datum.label == 'Truncated' ? 'Demographic-consumption truncated' : datum.label","symbolType":"M-1,0H3","symbolSize":900,"symbolStrokeWidth":5,"labelFontSize":26.5,"labelLimit":1000,"labelColor":"#000000","labelOffset":46,"columnPadding":50,"padding":8,"strokeColor":"#d0d0d0","cornerRadius":5,"fillColor":"#ffffff"}}}},
{"mark":{"type":"line","interpolate":"monotone","strokeWidth":4.5},"encoding":{"stroke":{"field":"series","type":"nominal","scale":{"domain":["Untruncated","Truncated"],"range":["#4a76a8","#dc7655"]},"legend":{"orient":"bottom","offset":35,"direction":"horizontal","title":null,"labelExpr":"datum.label == 'Truncated' ? 'Demographic-consumption truncated' : datum.label","symbolType":"M-1,0H3","symbolSize":900,"symbolStrokeWidth":5,"labelFontSize":26.5,"labelLimit":1000,"labelColor":"#000000","labelOffset":46,"columnPadding":50,"padding":8,"strokeColor":"#d0d0d0","cornerRadius":5,"fillColor":"#ffffff"}}}}
]
}
}
],
"config":{
"font":"DejaVu Sans",
"view":{"stroke":"#808080","strokeWidth":2.2},
"legend":{"layout":{"bottom":{"anchor":"middle"}}},
"axis":{"labelFontSize":26,"labelColor":"#000000","labelFlush":false,"labelOverlap":false,"labelBound":false,"titleFontSize":28,"titleFontWeight":"normal","titleColor":"#000000","tickColor":"#222222","tickSize":7,"tickWidth":2.2,"labelPadding":4,"domain":false,"grid":true,"gridColor":"#e6e6e6","gridDash":[8,4],"gridWidth":1.5}
}
}
